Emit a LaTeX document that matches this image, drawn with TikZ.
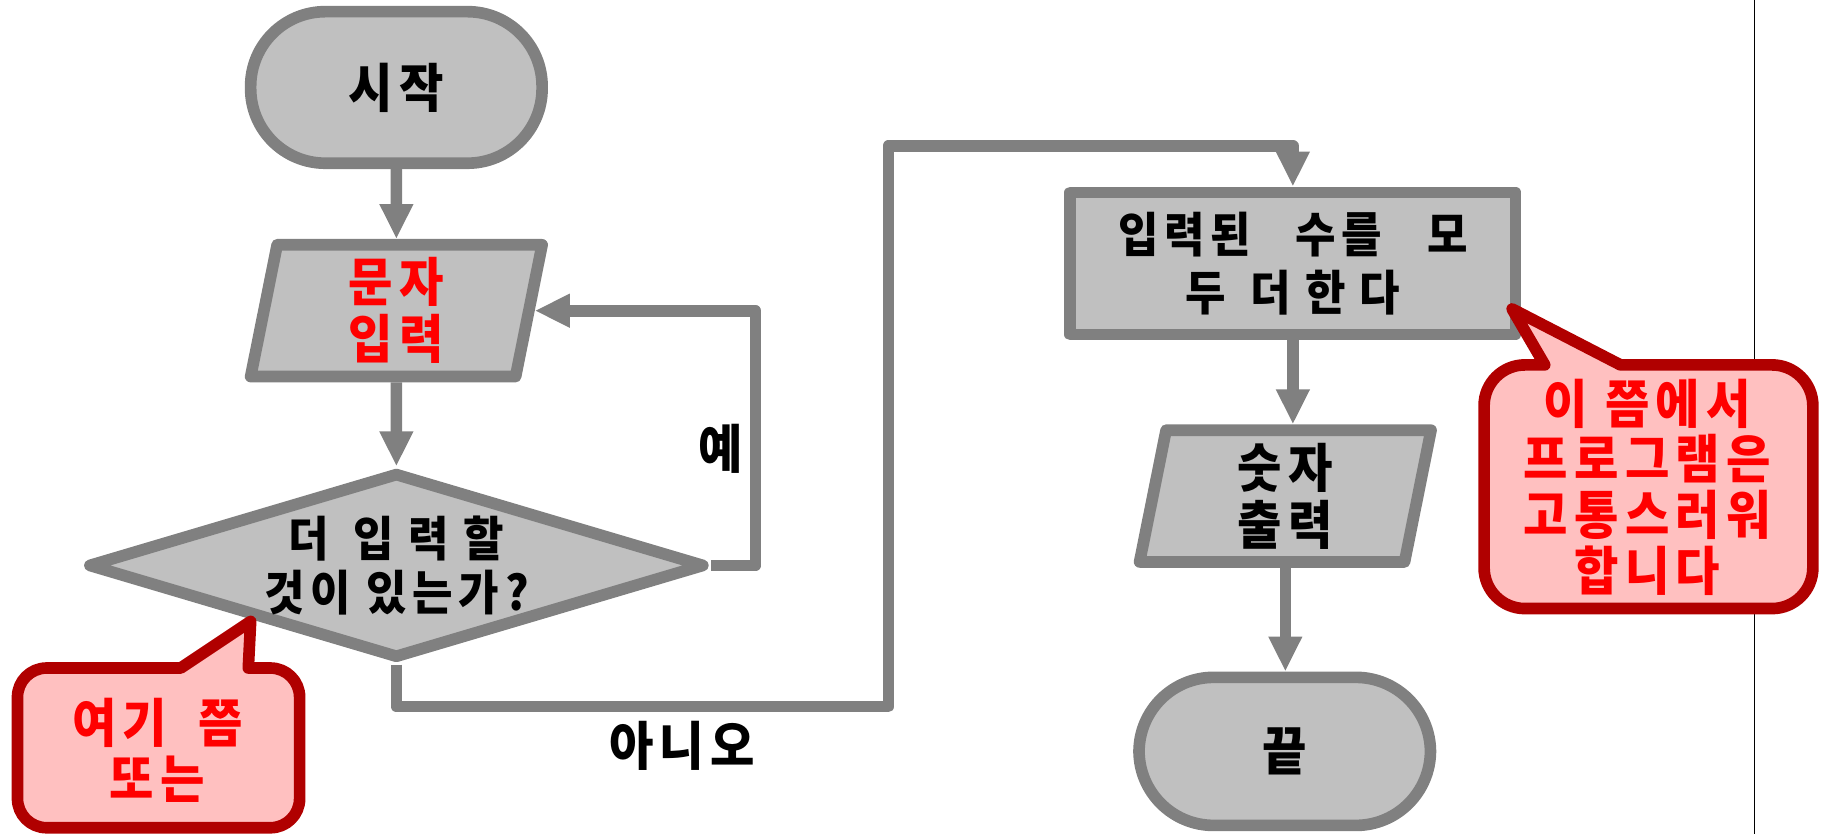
\documentclass[tikz,border=0pt]{standalone}
\usepackage{fontspec}
\setmainfont{Noto Sans CJK KR}
\newfontfamily\krsp{Noto Sans CJK KR}[LetterSpace=12, FakeStretch=0.92]
\usetikzlibrary{shapes.geometric,arrows.meta}
\definecolor{sgray}{HTML}{808080}
\definecolor{fgray}{HTML}{C0C0C0}
\definecolor{cred}{HTML}{B00000}
\definecolor{cpink}{HTML}{FFC0C0}
\definecolor{tred}{HTML}{FF0000}
\newcommand{\widesp}{\addfontfeature{LetterSpace=30}}
\begin{document}
\begin{tikzpicture}[x=1pt,y=-1pt,
  txt/.style={font=\krsp\fontsize{45}{49}\selectfont\bfseries, align=center, inner sep=0pt},
  base/.style={txt, draw=sgray, fill=fgray, line width=10pt, line join=round},
  term/.style={base, rectangle, rounded corners=64pt, minimum width=250pt, minimum height=130pt},
  iobox/.style={base, trapezium, trapezium left angle=76, trapezium right angle=104, trapezium stretches body, minimum width=250pt, minimum height=113pt},
  decbox/.style={base, diamond, minimum width=530pt, minimum height=160pt},
  procbox/.style={base, rectangle, minimum width=382pt, minimum height=122pt, font=\krsp\fontsize{41}{50}\selectfont\bfseries},
  dectxt/.style={txt, font=\krsp\fontsize{41}{46}\selectfont\bfseries},
  conn/.style={draw=sgray, line width=10pt, line join=round, -{Triangle[length=30pt,width=27pt]}},
  callout/.style={draw=cred, fill=cpink, line width=10pt, line join=round},
  ctext/.style={txt, text=tred, font=\krsp\fontsize{45}{48}\selectfont\bfseries}
]
\useasboundingbox (0,0) rectangle (1568,715.4);
\draw[black, line width=1.2pt] (1505,0) -- (1505,715.4);

\node[term] (start) at (340,75) {시작};
\node[iobox, text=tred] (inp) at (340,266.5) {문자\\입력};
\node[decbox] (dec) at (340,485) {};
\node[dectxt] (dectext) at (dec.center) {{\widesp 더 입력할}\\것이 있는가?};
\node[procbox] (proc) at (1109,226) {\makebox[300pt][s]{입력된 수를 모}\\{\widesp 두 더한다}};
\node[iobox] (out) at (1102.5,425.5) {숫자\\출력};
\node[term, minimum height=127pt] (end) at (1102,644.5) {끝};

\coordinate (yes1) at (648,485);
\coordinate (c1) at (340,606);
\coordinate (c2) at (762,606);
\coordinate (c3) at (762,125);
\coordinate (c4) at (1109,125);

\draw[conn] (start) -- (inp);
\draw[conn] (inp) -- (dec);
\draw[conn] (dec.east) -- (yes1) |- (inp.east);
\draw[conn] (dec.south) -- (c1) -- (c2) -- (c3) -- (c4) -- (proc.north);
\draw[conn] (proc.south) -- (proc.south |- out.north);
\draw[conn] (out.south) -- (out.south |- end.north);

\node[txt] (yes) at (618,385) {예};
\node[txt] (no) at (585,640) {아니오};

\draw[callout] (155,573) -- (215,533) -- (213,573) {[rounded corners=25pt] -- (257,573) -- (257,710) -- (15,710) -- (15,573)} -- cycle;
\node[ctext] (note1) at (135,644) {\makebox[146pt][s]{여기 쯤}\\또는};

\draw[callout] (1325,313) -- (1297,265) -- (1390,313) {[rounded corners=35pt] -- (1555,313) -- (1555,522) -- (1273,522) -- (1273,313)} -- cycle;
\node[ctext] (note2) at (1413,418) {이 쯤에서\\프로그램은\\고통스러워\\합니다};
\end{tikzpicture}
\end{document}
